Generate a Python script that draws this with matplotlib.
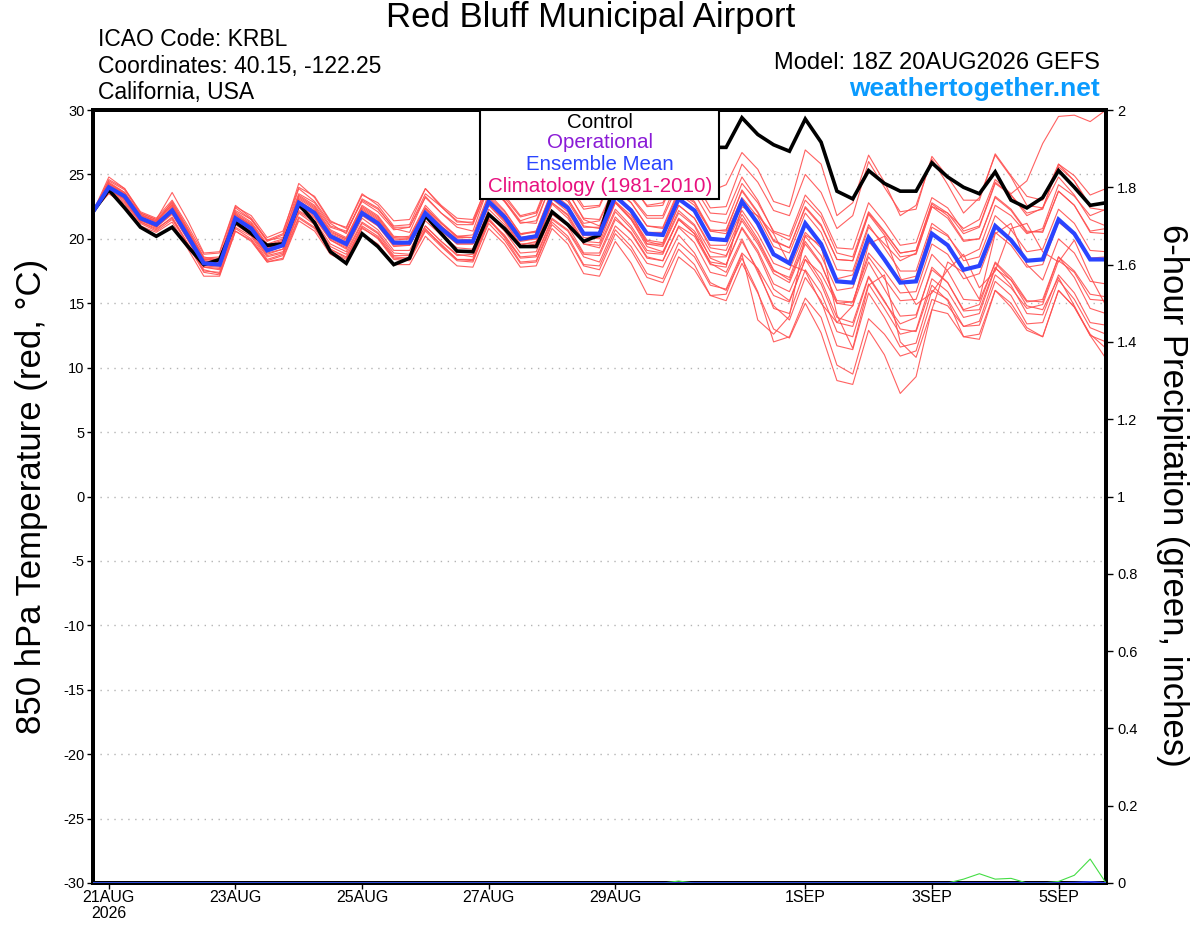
import numpy as np
import matplotlib
matplotlib.use("Agg")
import matplotlib.pyplot as plt
from matplotlib.patches import Rectangle

plt.rcParams['font.family'] = ['Liberation Sans', 'DejaVu Sans']
plt.rcParams['axes.unicode_minus'] = False

# ---------------- data ----------------
# 6-hourly steps from 18Z 20AUG2026 to 18Z 05SEP2026 (65 points)
n_steps = 65
date_ticks_day = [0, 2, 4, 6, 8, 11, 13, 15]   # days after 00Z 21AUG
date_tick_labels = ["21AUG\n2026", "23AUG", "25AUG", "27AUG", "29AUG", "1SEP", "3SEP", "5SEP"]

ens_mean = [22.1, 24.0, 23.3, 21.6, 21.1, 22.2, 20.2, 18.1,
            18.0, 21.6, 20.8, 19.1, 19.5, 22.8, 22.0, 20.2,
            19.6, 22.0, 21.2, 19.7, 19.7, 22.0, 20.8, 19.8,
            19.8, 22.9, 21.7, 20.0, 20.2, 23.3, 22.4, 20.4,
            20.4, 23.3, 22.2, 20.4, 20.3, 23.1, 22.2, 20.0,
            19.9, 22.9, 21.2, 18.8, 18.1, 21.2, 19.6, 16.7,
            16.6, 20.1, 18.4, 16.6, 16.7, 20.4, 19.5, 17.6,
            17.9, 21.0, 19.9, 18.3, 18.4, 21.5, 20.4, 18.4, 18.4]

control = [22.1, 23.8, 22.4, 20.9, 20.2, 20.9, 19.4, 18.0,
           18.4, 21.3, 20.4, 19.5, 19.6, 22.7, 21.25, 19.0,
           18.1, 20.4, 19.4, 18.0, 18.5, 21.8, 20.4, 19.05,
           19.0, 21.9, 20.8, 19.4, 19.4, 22.1, 21.1, 19.8,
           20.3, 24.5, 24.0, 24.5, 25.5, 27.5, 27.0, 27.1,
           27.1, 29.4, 28.1, 27.3, 26.8, 29.3, 27.5, 23.7,
           23.1, 25.3, 24.3, 23.7, 23.7, 25.9, 24.8, 24.0,
           23.5, 25.2, 23.0, 22.4, 23.2, 25.3, 24.0, 22.6, 22.8]

member_01 = [22.1, 24.4, 23.6, 21.9, 21.3, 22.9, 20.8, 18.6, 18.3, 22.4, 21.5, 19.9, 20.1, 23.9, 22.9, 21.2,
             20.4, 23.1, 22.4, 20.8, 20.5, 23.3, 22.0, 20.9, 20.6, 24.1, 22.9, 21.3, 21.2, 24.5, 23.1, 21.0,
             20.8, 23.6, 22.0, 19.6, 19.4, 22.0, 21.0, 18.5, 18.0, 20.8, 18.9, 16.1, 15.2, 18.4, 16.5, 13.5,
             13.2, 17.0, 15.1, 13.4, 13.9, 17.8, 16.6, 14.5, 14.9, 18.2, 17.0, 15.2, 15.1, 18.6, 17.0, 14.6, 14.2]
member_02 = [22.1, 24.2, 23.4, 21.7, 21.0, 22.5, 20.5, 18.3, 18.2, 21.9, 21.0, 19.5, 19.7, 23.4, 22.6, 20.9,
             20.5, 23.0, 22.3, 20.9, 20.9, 23.5, 22.5, 21.3, 21.3, 24.6, 23.4, 21.8, 22.1, 25.2, 24.4, 22.5,
             22.6, 25.6, 24.3, 22.5, 22.6, 25.4, 24.5, 22.4, 22.5, 25.8, 24.4, 22.2, 21.8, 25.0, 23.6, 20.8,
             21.8, 26.0, 24.0, 22.1, 22.3, 26.4, 24.8, 23.0, 23.0, 26.6, 24.9, 23.3, 23.0, 25.8, 24.5, 22.4, 22.2]
member_03 = [22.1, 23.9, 23.1, 21.4, 20.9, 21.9, 19.9, 17.8, 17.7, 21.2, 20.5, 18.8, 19.2, 22.4, 21.6, 19.9,
             19.3, 21.8, 21.0, 19.4, 19.5, 21.8, 20.7, 19.6, 19.6, 22.6, 21.3, 19.5, 19.8, 22.8, 21.9, 19.8,
             19.7, 22.8, 21.5, 19.6, 19.6, 22.6, 21.6, 19.5, 19.5, 22.2, 20.4, 18.1, 17.6, 20.5, 19.3, 16.9,
             17.2, 20.9, 19.6, 18.3, 18.9, 22.5, 22.0, 20.8, 21.5, 24.6, 23.5, 24.5, 27.4, 29.5, 29.6, 29.1, 30.0]
member_04 = [22.1, 23.7, 22.9, 21.3, 20.8, 21.6, 19.6, 17.5, 17.4, 20.9, 20.2, 18.4, 18.8, 22.0, 21.1, 19.2,
             18.5, 20.9, 20.0, 18.4, 18.3, 20.6, 19.4, 18.3, 18.2, 21.2, 19.9, 18.1, 18.2, 21.1, 20.0, 17.9,
             17.6, 20.4, 19.1, 17.0, 16.6, 19.2, 18.0, 15.6, 15.2, 18.1, 15.8, 13.0, 12.3, 15.0, 12.7, 9.0,
             8.7, 12.9, 11.0, 8.0, 9.3, 14.5, 14.2, 12.4, 12.6, 16.0, 15.0, 13.1, 12.4, 16.0, 14.7, 12.5, 12.0]
member_05 = [22.1, 24.1, 23.2, 21.5, 21.0, 22.0, 20.0, 17.9, 17.8, 21.3, 20.4, 18.7, 19.0, 22.2, 21.4, 19.6,
             19.0, 21.3, 20.5, 18.9, 18.8, 21.0, 19.8, 18.8, 18.6, 21.6, 20.2, 18.5, 18.6, 21.5, 20.6, 18.6,
             18.2, 21.0, 19.9, 18.1, 17.8, 20.3, 18.9, 16.6, 16.0, 18.5, 15.9, 12.0, 12.4, 15.4, 13.9, 10.2,
             9.5, 13.8, 12.6, 10.9, 11.3, 15.3, 14.8, 13.2, 13.6, 17.2, 16.2, 14.6, 14.9, 18.3, 17.4, 15.3, 15.2]
member_06 = [22.1, 24.5, 23.8, 22.0, 21.5, 22.8, 20.7, 18.5, 18.6, 22.2, 21.5, 19.8, 20.3, 23.5, 22.8, 21.0,
             20.6, 22.9, 22.1, 20.7, 20.9, 23.2, 22.0, 21.1, 21.1, 24.1, 22.9, 21.2, 21.4, 24.4, 23.6, 21.6,
             21.5, 24.2, 23.3, 21.8, 21.8, 24.8, 24.0, 22.0, 21.9, 24.8, 23.0, 20.5, 19.9, 23.0, 21.7, 18.9,
             18.6, 22.1, 20.6, 18.9, 19.1, 22.7, 21.8, 19.9, 20.0, 23.3, 22.3, 20.6, 20.5, 23.7, 22.6, 20.6, 20.8]
member_07 = [22.1, 23.8, 23.0, 21.3, 20.7, 21.7, 19.6, 17.6, 17.3, 20.8, 20.0, 18.3, 18.7, 21.7, 20.9, 19.2,
             18.6, 21.0, 20.2, 18.6, 18.5, 20.7, 19.6, 18.4, 18.3, 21.4, 20.3, 18.6, 18.7, 21.6, 20.7, 18.8,
             18.7, 21.5, 20.5, 18.6, 18.3, 21.0, 20.2, 18.0, 17.8, 22.5, 21.8, 20.4, 18.0, 17.5, 15.0, 13.5,
             14.8, 19.6, 20.2, 17.0, 14.9, 15.8, 17.6, 18.8, 16.2, 17.5, 20.8, 21.2, 19.0, 18.2, 19.9, 17.1, 14.8]
member_08 = [22.1, 24.6, 23.9, 22.1, 21.6, 23.0, 21.0, 18.8, 18.9, 22.5, 21.8, 20.1, 20.6, 24.0, 23.3, 21.4,
             20.8, 23.4, 22.8, 21.4, 21.5, 23.9, 22.6, 21.6, 21.5, 24.4, 23.0, 21.4, 21.8, 24.8, 24.1, 22.3,
             22.5, 25.2, 24.2, 22.6, 22.8, 25.2, 24.6, 23.7, 24.2, 26.7, 25.4, 22.9, 22.5, 26.9, 25.8, 21.8,
             22.8, 26.5, 24.4, 21.8, 22.6, 26.2, 24.2, 22.0, 23.2, 26.5, 24.8, 22.6, 22.4, 24.8, 23.4, 21.5, 21.0]
member_09 = [22.1, 24.0, 23.3, 21.6, 21.1, 22.3, 20.3, 18.2, 18.0, 21.5, 20.8, 19.0, 19.4, 22.6, 21.8, 20.0,
             19.4, 21.9, 21.0, 19.5, 19.5, 21.8, 20.7, 19.7, 19.7, 22.8, 21.5, 19.9, 20.0, 23.1, 22.3, 20.3,
             20.1, 22.9, 21.8, 19.9, 19.7, 22.6, 21.6, 19.3, 19.1, 21.9, 20.0, 17.6, 16.8, 19.8, 18.1, 15.0,
             14.8, 18.2, 16.1, 14.0, 14.1, 17.6, 16.6, 14.4, 14.5, 17.8, 16.4, 14.2, 14.1, 17.2, 15.8, 13.5, 13.3]
member_10 = [22.1, 24.3, 23.6, 21.8, 21.4, 22.6, 20.5, 18.4, 18.4, 22.0, 21.2, 19.5, 19.9, 23.2, 22.4, 20.6,
             20.0, 22.5, 21.7, 20.1, 20.2, 22.6, 21.3, 20.2, 20.3, 23.5, 22.2, 20.4, 20.5, 23.6, 22.6, 20.5,
             20.2, 22.8, 21.5, 19.4, 19.0, 21.5, 20.4, 18.1, 17.4, 20.0, 17.4, 14.8, 13.7, 17.0, 15.2, 11.7,
             11.4, 15.8, 13.9, 11.6, 11.9, 16.0, 15.3, 13.2, 13.3, 16.7, 15.6, 13.4, 13.5, 16.8, 15.3, 13.1, 12.6]
member_11 = [22.1, 23.9, 23.2, 21.6, 21.2, 22.4, 20.4, 18.3, 18.1, 21.8, 21.1, 19.3, 19.8, 23.0, 22.1, 20.3,
             19.8, 22.2, 21.4, 19.8, 19.8, 22.1, 21.0, 20.0, 19.9, 23.0, 21.9, 20.3, 20.6, 23.8, 23.1, 21.2,
             21.4, 24.0, 23.2, 21.6, 21.6, 24.3, 23.5, 21.4, 21.2, 24.3, 22.8, 20.6, 20.2, 23.4, 22.0, 19.3,
             19.2, 22.8, 21.3, 19.5, 19.7, 23.2, 22.4, 20.6, 21.0, 24.4, 23.4, 21.8, 22.4, 25.6, 24.5, 22.6, 22.7]
member_12 = [22.1, 23.6, 22.8, 21.2, 20.6, 21.5, 19.5, 17.4, 17.2, 20.6, 19.8, 18.2, 18.4, 21.4, 20.6, 18.8,
             18.2, 20.4, 19.6, 18.0, 18.0, 20.2, 19.0, 17.9, 17.8, 20.8, 19.6, 17.8, 17.9, 20.8, 19.6, 17.3,
             17.1, 19.8, 18.1, 15.7, 15.6, 18.6, 17.6, 15.6, 15.7, 18.8, 13.7, 12.6, 14.0, 20.3, 19.5, 14.1,
             11.5, 16.4, 17.2, 12.0, 10.8, 14.5, 18.2, 17.4, 15.3, 20.4, 21.2, 18.0, 16.8, 20.0, 18.9, 16.7, 16.5]
member_13 = [22.1, 24.8, 23.9, 22.0, 21.5, 23.6, 21.4, 18.9, 19.0, 22.6, 21.6, 19.9, 20.4, 24.3, 23.2, 21.3,
             20.9, 23.5, 22.6, 21.0, 21.1, 23.9, 22.5, 21.4, 21.2, 24.2, 23.2, 21.7, 22.0, 24.8, 23.7, 21.5,
             21.0, 23.8, 22.8, 21.0, 20.8, 23.6, 22.8, 20.6, 20.4, 23.2, 21.7, 19.4, 18.9, 22.0, 20.5, 17.6,
             17.5, 21.1, 19.3, 17.5, 17.5, 21.2, 20.3, 18.3, 18.6, 21.8, 20.7, 19.0, 19.2, 22.3, 21.2, 19.1, 19.0]
member_14 = [22.1, 23.8, 23.1, 21.4, 21.0, 22.0, 20.0, 18.0, 17.9, 21.4, 20.6, 18.9, 19.2, 22.5, 21.7, 19.9,
             19.2, 21.6, 20.7, 19.1, 19.1, 21.4, 20.3, 19.3, 19.2, 22.3, 21.1, 19.4, 19.6, 22.7, 21.6, 19.6,
             19.5, 22.3, 21.0, 19.1, 18.9, 21.5, 20.4, 18.2, 18.0, 20.9, 19.1, 16.5, 15.9, 18.7, 16.8, 13.9,
             13.5, 17.1, 15.2, 13.0, 12.8, 16.4, 15.2, 12.4, 12.2, 16.0, 14.7, 12.9, 12.4, 16.0, 14.7, 12.6, 11.5]
member_15 = [22.1, 24.1, 23.4, 21.7, 21.2, 22.4, 20.3, 18.2, 18.1, 21.7, 20.9, 19.2, 19.6, 22.8, 22.0, 20.2,
             19.6, 21.9, 21.1, 19.6, 19.5, 21.8, 20.6, 19.6, 19.6, 22.7, 21.5, 19.8, 20.0, 23.1, 22.1, 20.1,
             20.0, 22.9, 21.6, 19.8, 19.5, 22.2, 21.1, 19.0, 18.7, 21.4, 19.6, 17.3, 16.6, 19.6, 18.0, 15.2,
             15.1, 18.6, 16.9, 15.2, 15.3, 18.8, 17.5, 15.3, 15.2, 18.1, 16.8, 14.8, 14.5, 17.0, 14.8, 12.5, 10.7]
member_16 = [22.1, 24.2, 23.5, 21.8, 21.3, 22.7, 20.6, 18.5, 18.5, 22.1, 21.3, 19.6, 20.0, 23.3, 22.5, 20.7,
             20.1, 22.6, 21.8, 20.2, 20.1, 22.4, 21.2, 20.2, 20.1, 23.2, 21.9, 20.1, 20.3, 23.4, 22.4, 20.3,
             20.5, 23.5, 22.3, 20.5, 20.5, 23.5, 22.6, 20.6, 20.7, 23.7, 22.0, 19.8, 19.3, 22.4, 21.0, 18.4,
             18.3, 22.0, 20.5, 18.9, 19.1, 22.8, 22.0, 20.4, 20.9, 24.3, 23.4, 22.0, 22.3, 25.8, 24.9, 23.4, 23.9]
member_17 = [22.1, 23.9, 23.1, 21.5, 20.9, 22.0, 19.9, 17.8, 17.6, 21.1, 20.3, 18.6, 18.9, 22.1, 21.3, 19.4,
             18.8, 21.2, 20.4, 18.7, 18.7, 21.0, 19.8, 18.7, 18.8, 21.9, 20.6, 18.9, 19.0, 21.9, 21.0, 18.9,
             18.9, 21.7, 20.4, 18.5, 18.3, 20.9, 19.7, 17.4, 17.1, 19.8, 17.6, 14.6, 14.2, 17.6, 15.8, 12.8,
             12.4, 16.5, 14.6, 12.6, 12.9, 16.9, 15.9, 13.9, 14.2, 17.7, 16.8, 15.1, 15.3, 18.6, 17.5, 15.7, 15.5]
member_18 = [22.1, 24.0, 23.4, 21.7, 21.2, 22.1, 20.1, 18.0, 17.9, 21.7, 21.0, 19.3, 19.6, 22.9, 22.2, 20.4,
             19.9, 22.3, 21.5, 19.9, 20.0, 22.4, 21.2, 20.1, 20.1, 23.3, 22.1, 20.4, 20.6, 23.7, 22.9, 20.9,
             20.9, 23.9, 22.8, 21.0, 20.9, 23.8, 22.9, 20.7, 20.6, 23.8, 22.1, 19.9, 19.3, 22.5, 21.1, 18.4,
             18.3, 21.9, 20.3, 18.6, 18.8, 22.5, 21.6, 19.8, 20.0, 23.2, 22.2, 20.5, 20.6, 23.7, 22.6, 20.5, 20.4]
member_19 = [22.1, 23.5, 22.7, 21.0, 20.5, 21.3, 19.2, 17.1, 17.1, 20.6, 19.9, 18.2, 18.5, 21.6, 20.8, 19.0,
             18.4, 20.8, 20.1, 18.5, 18.4, 20.8, 19.5, 18.4, 18.4, 21.5, 20.1, 18.2, 18.3, 21.3, 20.2, 18.0,
             17.9, 20.7, 19.4, 17.3, 16.9, 19.7, 18.6, 16.4, 16.1, 18.9, 17.7, 15.6, 15.1, 18.4, 17.3, 15.0,
             15.1, 18.9, 17.5, 15.8, 15.9, 19.6, 18.8, 16.9, 17.3, 20.5, 19.5, 17.8, 18.0, 21.3, 20.3, 18.5, 18.6]
member_20 = [22.1, 24.3, 23.5, 21.9, 21.4, 22.6, 20.6, 18.4, 18.3, 21.9, 21.1, 19.4, 19.8, 23.1, 22.3, 20.5,
             20.0, 22.4, 21.6, 20.0, 20.0, 22.3, 21.0, 19.9, 19.7, 22.7, 21.4, 19.6, 19.7, 22.8, 21.8, 19.6,
             19.3, 22.1, 20.8, 18.9, 18.8, 21.6, 20.6, 18.6, 18.6, 21.6, 19.8, 17.5, 17.0, 20.2, 18.7, 16.0,
             16.2, 19.8, 18.4, 16.8, 17.1, 20.9, 20.2, 18.6, 19.2, 22.6, 21.8, 20.4, 20.8, 24.2, 23.3, 21.8, 22.3]

members = [member_01, member_02, member_03, member_04, member_05, member_06, member_07,
           member_08, member_09, member_10, member_11, member_12, member_13, member_14,
           member_15, member_16, member_17, member_18, member_19, member_20]

precip_green = [0, 0, 0, 0, 0, 0, 0, 0, 0, 0, 0, 0, 0, 0, 0, 0,
                0, 0, 0, 0, 0, 0, 0, 0, 0, 0, 0, 0, 0, 0, 0, 0,
                0, 0, 0, 0, 0, 0.005, 0, 0, 0, 0, 0, 0, 0, 0, 0, 0,
                0, 0, 0, 0, 0, 0, 0, 0.01, 0.024, 0.01, 0.012, 0, 0, 0.004, 0.02, 0.062, 0]
precip_blue = [0] * 62 + [0.001, 0.003, 0]

# ---------------- figure ----------------
W, H = 1200, 927
fig = plt.figure(figsize=(W / 100, H / 100), dpi=100)
L, R, T, B = 93, 1106, 110, 883
ax = fig.add_axes([L / W, 1 - B / H, (R - L) / W, (B - T) / H])

x = np.arange(n_steps) * 0.25 - 0.25

for y in range(-25, 30, 5):
    ax.axhline(y, color='#b4b4b4', lw=1.0, ls=(0, (1, 4)), zorder=1)

for m in members:
    ax.plot(x, m, color='#ff5050', lw=0.8, alpha=0.9, zorder=2)
ax.plot(x, control, color='black', lw=2.6, zorder=4, solid_joinstyle='miter')
ax.plot(x, ens_mean, color='#2a44ff', lw=3.0, zorder=5, solid_joinstyle='miter')

ax.set_xlim(x[0], x[-1])
ax.set_ylim(-30, 30)
ax.set_yticks(range(-30, 31, 5))
ax.set_yticklabels([str(v) for v in range(-30, 31, 5)])
ax.set_xticks(date_ticks_day)
ax.set_xticklabels(date_tick_labels, linespacing=1.05)
ax.tick_params(axis='y', labelsize=10.5, length=4, width=1, pad=2)
ax.tick_params(axis='x', labelsize=11.5, length=4, width=1, pad=1)
for s in ax.spines.values():
    s.set_linewidth(2.8)

ax2 = ax.twinx()
ax2.plot(x, precip_green, color='#44dd44', lw=0.8, zorder=3)
ax2.plot(x, precip_blue, color='#3344ff', lw=1.2, zorder=3)
ax2.set_ylim(0, 2)
ax2.set_xlim(x[0], x[-1])
ticks_r = [0, 0.2, 0.4, 0.6, 0.8, 1, 1.2, 1.4, 1.6, 1.8, 2]
ax2.set_yticks(ticks_r)
ax2.set_yticklabels(['0', '0.2', '0.4', '0.6', '0.8', '1', '1.2', '1.4', '1.6', '1.8', '2'])
ax2.tick_params(axis='y', labelsize=10.5, length=5, width=1, pad=3)
for s in ax2.spines.values():
    s.set_linewidth(2.8)

# legend box
lx0, lx1, ly0 = (480 - L) / (R - L), (719 - L) / (R - L), 1 - (199 - T) / (B - T)
ax2.add_patch(Rectangle((lx0, ly0), lx1 - lx0, 1 - ly0, transform=ax2.transAxes,
                        facecolor='white', edgecolor='black', lw=1.5, zorder=10, clip_on=False))
leg_items = [("Control", 'black', 122), ("Operational", '#8a1ad6', 143),
             ("Ensemble Mean", '#2a44ff', 164), ("Climatology (1981-2010)", '#e8117f', 186)]
for txt, col, yp in leg_items:
    fig.text(600 / W, 1 - yp / H, txt, color=col, fontsize=14.8, ha='center', va='center', zorder=11)

# header texts
fig.text(591 / W, 1 - 18 / H, "Red Bluff Municipal Airport", fontsize=25, ha='center', va='center')
fig.text(98 / W, 1 - 40 / H, "ICAO Code: KRBL", fontsize=16.5, ha='left', va='center')
fig.text(98 / W, 1 - 66 / H, "Coordinates: 40.15, -122.25", fontsize=16.5, ha='left', va='center')
fig.text(98 / W, 1 - 92 / H, "California, USA", fontsize=16.5, ha='left', va='center')
fig.text(1100 / W, 1 - 63 / H, "Model: 18Z 20AUG2026 GEFS", fontsize=17, ha='right', va='center')
fig.text(1100 / W, 1 - 89 / H, "weathertogether.net", fontsize=19, fontweight='bold',
         color='#0a9bff', ha='right', va='center')

fig.text(32 / W, 1 - 496 / H, "850 hPa Temperature (red, °C)", fontsize=25, rotation=90,
         ha='center', va='center')
fig.text(1172 / W, 1 - 495 / H, "6-hour Precipitation (green, inches)", fontsize=25, rotation=-90,
         ha='center', va='center')

fig.savefig("out.png", dpi=100)
